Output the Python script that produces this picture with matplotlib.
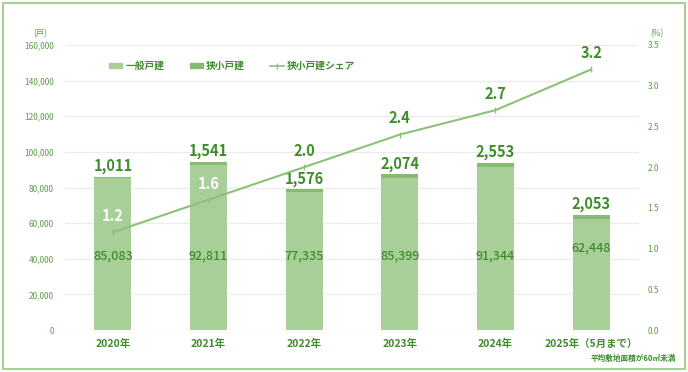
import matplotlib
matplotlib.use("Agg")
import matplotlib.pyplot as plt
from matplotlib.patches import Rectangle, Patch
from matplotlib.lines import Line2D
import numpy as np

plt.rcParams['font.family'] = ['Noto Sans CJK JP', 'DejaVu Sans']

years = ["2020年", "2021年", "2022年", "2023年", "2024年", "2025年（5月まで）"]
general = [85083, 92811, 77335, 85399, 91344, 62448]
small = [1011, 1541, 1576, 2074, 2553, 2053]
share = [1.2, 1.6, 2.0, 2.4, 2.7, 3.2]
left_ticks = [0, 20000, 40000, 60000, 80000, 100000, 120000, 140000, 160000]
right_ticks = [0.0, 0.5, 1.0, 1.5, 2.0, 2.5, 3.0, 3.5]

# layout (not data)
inner_label_y = [41500, 41500, 41500, 41500, 41500, 46000]
share_label_white = [True, True, False, False, False, False]

c_general = "#a9cf98"
c_small = "#86bb70"
c_line = "#8cc17a"
c_text = "#3e8c2c"
c_tick = "#5a9e44"

fig = plt.figure(figsize=(6.88, 3.72), dpi=100)
ax = fig.add_axes([65/688, 1-330/372, 574/688, 285/372])
ax2 = ax.twinx()

x = np.arange(len(years))
w = 0.39
ax.bar(x, general, width=w, color=c_general, zorder=2)
ax.bar(x, small, bottom=general, width=w, color=c_small, zorder=2)

ax.set_xlim(-0.5, len(years) - 0.5)
ax.set_ylim(0, 160000)
ax.set_yticks(left_ticks)
ax.set_yticklabels([f"{v:,}" for v in left_ticks])
ax.yaxis.grid(True, color="#ececec", linewidth=1)
ax.set_axisbelow(True)
for s in ax.spines.values():
    s.set_visible(False)
for s in ax2.spines.values():
    s.set_visible(False)
ax.tick_params(axis='y', length=0, labelsize=6, labelcolor=c_tick, pad=8)
ax.set_xticks(x)
ax.set_xticklabels(years, fontsize=7.5, color=c_text, fontweight='bold')
ax.tick_params(axis='x', length=0, pad=6)

ax2.set_ylim(0, 3.5)
ax2.set_yticks(right_ticks)
ax2.set_yticklabels([f"{v:.1f}" for v in right_ticks])
ax2.tick_params(axis='y', length=0, labelsize=6, labelcolor=c_tick, pad=6)
ax2.plot(x, share, color=c_line, linewidth=1.5, marker='|', markersize=4,
         markeredgecolor=c_line, zorder=3)

for i in range(len(years)):
    total = general[i] + small[i]
    ax.text(x[i], total + 1500, f"{small[i]:,}", ha='center', va='bottom',
            fontsize=10.5, fontweight='bold', color=c_text, zorder=4)
    ax.text(x[i], inner_label_y[i], f"{general[i]:,}", ha='center', va='center',
            fontsize=9, fontweight='medium', color=c_text, zorder=4)
    col = "white" if share_label_white[i] else c_text
    ax2.text(x[i], share[i] + 0.1, f"{share[i]:.1f}", ha='center', va='bottom',
             fontsize=10.5, fontweight='bold', color=col, zorder=4)

handles = [Patch(color=c_general), Patch(color=c_small),
           Line2D([0], [0], color=c_line, marker='|', markersize=4, linewidth=1.2)]
labels = ["一般戸建", "狭小戸建", "狭小戸建シェア"]
leg = fig.legend(handles, labels, loc='center left', bbox_to_anchor=(100/688, 1-66/372),
                 ncol=3, frameon=False, fontsize=7, handlelength=1.4, handleheight=0.5,
                 columnspacing=2.6, handletextpad=0.3)
for t in leg.get_texts():
    t.set_color(c_text)
    t.set_fontweight('bold')

fig.text(40/688, 1-34/372, "(戸)", ha='center', va='center', fontsize=6, color=c_tick)
fig.text(650/688, 1-34/372, "(%)", ha='left', va='center', fontsize=6, color=c_tick)
fig.text(676/688, 1-358/372, "平均敷地面積が60㎡未満", ha='right', va='center',
         fontsize=5.5, color=c_text, fontweight='bold')

fig.patches.append(Rectangle((3/688, 3/372), 682/688, 366/372, transform=fig.transFigure,
                             fill=False, edgecolor="#a5d196", linewidth=1.5))

fig.savefig("out.png", dpi=100)
